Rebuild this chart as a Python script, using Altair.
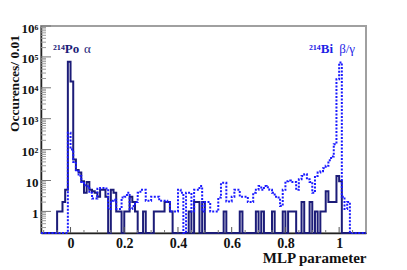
import altair as alt
import pandas as pd

# ---- data (bin width 0.01, lower edges -0.11 ... 1.09) ----
bin_low_edges = [round(-0.11 + 0.01 * i, 2) for i in range(121)]
last_edge = 1.10

# 214Po alpha (solid navy)
alpha_counts = (
    [0, 0, 0, 0, 0, 0]                      # -0.11 .. -0.06
    + [1, 1, 2, 5]                          # -0.05 .. -0.02
    + [70000, 16000]                        # -0.01, 0.00
    + [48, 22, 18, 9.5, 4, 9, 5, 4.5, 4]    # 0.01 .. 0.09
    + [3, 5, 5, 3, 0, 5, 4, 1, 1, 0]        # 0.10 ..
    + [1, 1, 3, 2, 1, 0, 0, 1, 0, 0]        # 0.20 ..
    + [0, 1, 1, 1, 1, 2, 2, 1, 0, 0]        # 0.30 ..
    + [0, 0, 0, 0, 1, 0, 2, 2, 0, 2]        # 0.40 ..
    + [0, 0, 0, 0, 0, 0, 0, 1, 0, 0]        # 0.50 ..
    + [0, 0, 0, 1, 0, 0, 0, 0, 0, 1]        # 0.60 ..
    + [0, 1, 0, 0, 0, 1, 0, 0, 0, 1]        # 0.70 ..
    + [0, 1, 1, 1, 0, 0, 2, 0, 0, 2]        # 0.80 ..
    + [0, 1, 0, 1, 1, 4.5, 2, 2, 2, 14]     # 0.90 ..
    + [9.5, 0, 0, 0, 0, 0, 0, 0, 0, 0]      # 1.00 ..
)

# 214Bi beta/gamma (dotted blue)
beta_counts = (
    [0] * 10                                            # -0.11 .. -0.02
    + [350, 100]                                        # -0.01, 0.00
    + [40, 20, 14, 9, 7, 6.5, 4, 2.6, 2.6]              # 0.01 .. 0.09
    + [5.4, 5.7, 5.7, 5.5, 1.2, 2.2, 2.4, 1.2, 1.2, 2.8]
    + [3, 4, 1.2, 1.5, 2, 4, 5, 5, 2.2, 2.2]
    + [3, 3, 3, 2.2, 2.2, 2.2, 2, 1, 1, 1]
    + [5, 4, 0, 4, 4, 1, 5, 5, 6.6, 1]
    + [2, 2, 1, 1, 1, 2.8, 8.4, 8.4, 2.1, 2.1]
    + [3, 5, 5, 3, 3, 3, 2, 2, 4, 5]
    + [6.6, 5, 6.6, 6, 5, 4, 3, 2.8, 1.5, 5]
    + [9.5, 10, 9, 9, 5, 11, 14, 16, 11, 9]
    + [4, 14, 18, 20, 25, 30, 45, 60, 150, 19000]
    + [66000, 3, 1.2, 2, 0, 0, 0, 0, 0, 0]
)

x_tick_values = [0, 0.2, 0.4, 0.6, 0.8, 1.0]
x_tick_labels = ["0", "0.2", "0.4", "0.6", "0.8", "1"]
x_minor_ticks = [-0.1, -0.05, 0.05, 0.1, 0.15, 0.25, 0.3, 0.35, 0.45, 0.5,
                 0.55, 0.65, 0.7, 0.75, 0.85, 0.9, 0.95, 1.05]
y_tick_values = [1, 10, 100, 1000, 10000, 100000, 1000000]
y_tick_labels = ["1", "10", "10²", "10³", "10⁴", "10⁵", "10⁶"]
y_minor_ticks = [m * 10 ** k for k in range(-1, 6) for m in range(2, 10) if m * 10 ** k > 0.2]

ann_labels = ["²¹⁴Po", "²¹⁴Bi"]
ann_x = [-0.065, 0.888]
ann_y = [1.85e5, 1.85e5]
ann_colors = ["#1c1c78", "#1f1fe6"]
greek_labels = ["α", "β/γ"]
greek_x = [0.05, 1.0]
greek_y = [1.85e5, 1.85e5]

NAVY = "#1c1c78"
BLUE = "#1a1aff"
FONT = "Liberation Serif"

assert len(alpha_counts) == len(bin_low_edges) == len(beta_counts)

def steps(counts):
    return pd.DataFrame({"x": bin_low_edges + [last_edge],
                         "count": list(counts) + [counts[-1]]})

xs = alt.Scale(domain=[-0.11, 1.10], nice=False, zero=False)
ys = alt.Scale(type="log", domain=[0.2, 1e6], nice=False)

x_expr = " : ".join(f"datum.value == {v} ? '{l}'" for v, l in zip(x_tick_values, x_tick_labels)) + " : ''"
y_expr = " : ".join(f"datum.value == {v} ? '{l}'" for v, l in zip(y_tick_values, y_tick_labels)) + " : ''"

x_axis = alt.Axis(values=x_tick_values, labelExpr=x_expr, ticks=False, grid=False,
                  title="MLP parameter", titleX=325, titleY=29, titleAlign="right",
                  titleBaseline="alphabetic",
                  labelPadding=3, labelFlush=False, labelOverlap=False)
y_axis = alt.Axis(values=y_tick_values, labelExpr=y_expr, ticks=False, grid=False,
                  title="Occurences/ 0.01", titleAngle=-90, titleX=-22.5, titleY=57,
                  titleAlign="center", titleBaseline="alphabetic", titleFontSize=13.5,
                  labelPadding=3, labelOffset=2, labelOverlap=False, labelFlush=False,
                  labelFontSize=13)

def hist(counts, color, dash=None):
    mk = dict(interpolate="step-after", color=color, strokeWidth=2)
    if dash:
        mk["strokeDash"] = dash
    return alt.Chart(steps(counts)).transform_calculate(
        v="max(datum.count, 0.2)"
    ).mark_line(**mk).encode(
        x=alt.X("x:Q", scale=xs, axis=x_axis),
        y=alt.Y("v:Q", scale=ys, axis=y_axis),
    )

solid = hist(alpha_counts, NAVY)
dotted = hist(beta_counts, BLUE, [2, 1.5])

xmaj = alt.Chart(pd.DataFrame({"t": x_tick_values})).mark_rule(color="#555", strokeWidth=1).encode(
    x=alt.X("t:Q", scale=xs, axis=x_axis), y=alt.value(207), y2=alt.value(201))
xmin = alt.Chart(pd.DataFrame({"t": x_minor_ticks})).mark_rule(color="#777", strokeWidth=1).encode(
    x=alt.X("t:Q", scale=xs, axis=x_axis), y=alt.value(207), y2=alt.value(204))
ymaj = alt.Chart(pd.DataFrame({"t": y_tick_values})).mark_rule(color="#777", strokeWidth=1).encode(
    y=alt.Y("t:Q", scale=ys, axis=y_axis), x=alt.value(0), x2=alt.value(10))
ymin = alt.Chart(pd.DataFrame({"t": y_minor_ticks})).mark_rule(color="#999", strokeWidth=1).encode(
    y=alt.Y("t:Q", scale=ys, axis=y_axis), x=alt.value(0), x2=alt.value(5))

ann = alt.Chart(pd.DataFrame({"x": ann_x, "y": ann_y, "t": ann_labels, "c": ann_colors})).mark_text(
    font=FONT, fontWeight="bold", fontSize=13, align="left", baseline="middle").encode(
    x=alt.X("x:Q", scale=xs, axis=x_axis), y=alt.Y("y:Q", scale=ys, axis=y_axis),
    text="t:N", color=alt.Color("c:N", scale=None))
greek = alt.Chart(pd.DataFrame({"x": greek_x, "y": greek_y, "t": greek_labels, "c": ann_colors})).mark_text(
    font=FONT, fontSize=13, align="left", baseline="middle").encode(
    x=alt.X("x:Q", scale=xs, axis=x_axis), y=alt.Y("y:Q", scale=ys, axis=y_axis),
    text="t:N", color=alt.Color("c:N", scale=None))

chart = alt.layer(solid, dotted, xmaj, xmin, ymaj, ymin, ann, greek).properties(
    width=325, height=207,
    autosize=alt.AutoSizeParams(type="none"),
    padding={"left": 33, "top": 18, "right": 25, "bottom": 35},
    background="white",
).configure_view(
    stroke="#a0a0a0", strokeWidth=2
).configure_axis(
    labelFont=FONT, labelFontWeight="bold", labelFontSize=14, labelColor="#111",
    titleFont=FONT, titleFontWeight="bold", titleFontSize=15, titleColor="#111",
    domainColor="#222", domainWidth=1.5,
)

chart.save("out.html", embed_options={"renderer": "svg", "actions": False})
